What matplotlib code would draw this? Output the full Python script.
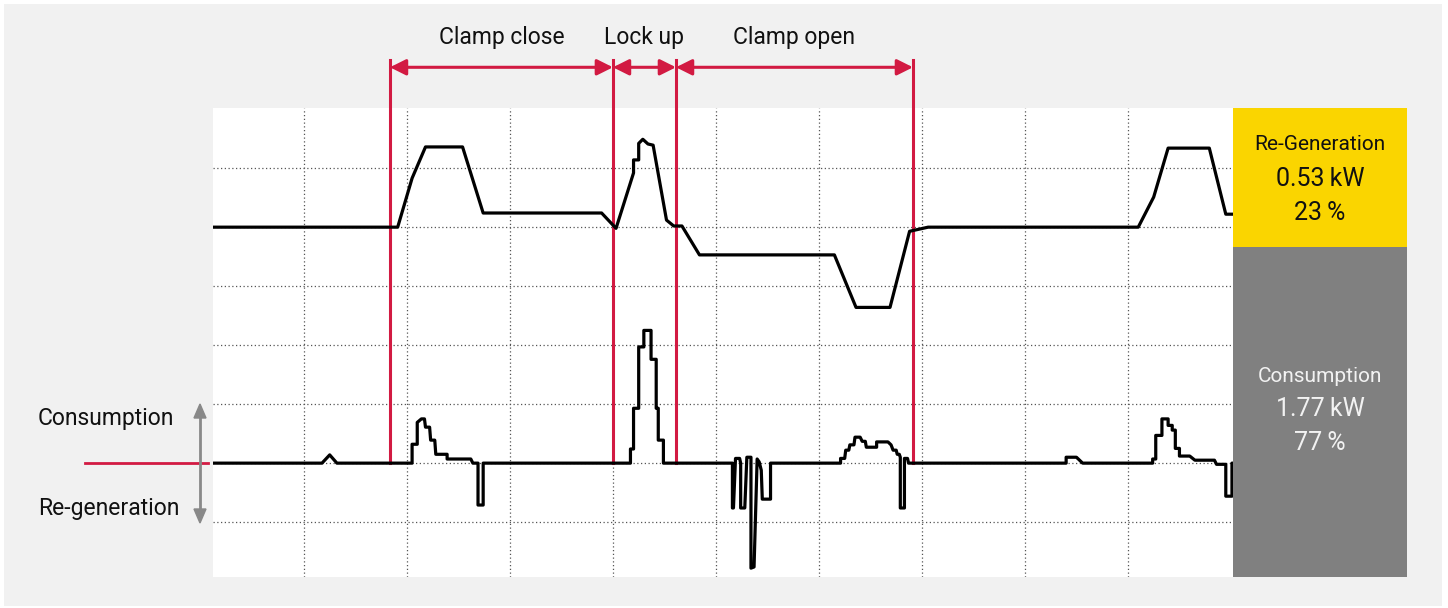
import matplotlib.pyplot as plt
from matplotlib.patches import Rectangle

plt.rcParams['font.family'] = ['Roboto', 'DejaVu Sans']

# time in grid divisions, signal in grid divisions
t_top = [0.12, 1.91, 2.05, 2.18, 2.54, 2.74, 3.89, 4.03, 4.20, 4.20, 4.25, 4.25, 4.29, 4.34, 4.39,
         4.52, 4.59, 4.67, 4.84, 6.15, 6.36, 6.69, 6.88, 7.06, 9.10, 9.25, 9.39, 9.79, 9.95, 10.02]
v_top = [4.0, 4.0, 4.83, 5.36, 5.36, 4.24, 4.24, 3.98, 4.92, 5.14, 5.14, 5.42, 5.49, 5.41, 5.39,
         4.12, 4.02, 4.02, 3.53, 3.53, 2.64, 2.64, 3.93, 4.0, 4.0, 4.51, 5.34, 5.34, 4.22, 4.22]

t_pow = [0.12, 1.175, 1.25, 1.32, 2.05, 2.05, 2.10, 2.10, 2.14, 2.17, 2.18, 2.22, 2.23, 2.27, 2.28,
         2.39, 2.39, 2.62, 2.64, 2.69, 2.69, 2.74, 2.74,
         4.17, 4.17, 4.20, 4.20, 4.25, 4.25, 4.30, 4.30, 4.37, 4.37, 4.42, 4.42, 4.44, 4.44, 4.49, 4.49,
         5.16, 5.16, 5.17, 5.19, 5.23, 5.24, 5.24, 5.28, 5.30, 5.34, 5.34, 5.37, 5.40, 5.42, 5.44,
         5.45, 5.53, 5.53,
         6.21, 6.21, 6.25, 6.26, 6.29, 6.30, 6.34, 6.35, 6.40, 6.42, 6.45, 6.46, 6.56, 6.56, 6.67,
         6.70, 6.72, 6.75, 6.76, 6.78, 6.79, 6.79, 6.83, 6.83, 6.86, 6.87,
         8.40, 8.40, 8.50, 8.56, 9.24, 9.24, 9.27, 9.27, 9.33, 9.33, 9.39, 9.39, 9.43, 9.43, 9.46,
         9.46, 9.50, 9.50, 9.60, 9.65, 9.84, 9.86, 9.95, 9.95, 10.01, 10.01, 10.02]
v_pow = [0, 0, 0.14, 0, 0, 0.32, 0.32, 0.69, 0.75, 0.75, 0.61, 0.61, 0.39, 0.39, 0.15,
         0.15, 0.07, 0.07, 0, 0, -0.71, -0.71, 0,
         0, 0.24, 0.24, 0.93, 0.93, 1.97, 1.97, 2.25, 2.25, 1.76, 1.76, 0.93, 0.93, 0.39, 0.39, 0,
         0, -0.76, -0.76, 0.08, 0.08, 0, -0.76, -0.76, 0.10, 0.10, -1.78, -1.76, 0.07, 0.02, -0.12,
         -0.61, -0.61, 0,
         0, 0.08, 0.08, 0.22, 0.22, 0.31, 0.31, 0.44, 0.44, 0.37, 0.37, 0.27, 0.27, 0.36, 0.36,
         0.31, 0.22, 0.22, 0.15, 0.15, 0.10, -0.76, -0.76, 0.08, 0.08, 0,
         0, 0.10, 0.10, 0, 0, 0.07, 0.07, 0.47, 0.47, 0.75, 0.75, 0.64, 0.64, 0.56, 0.56,
         0.25, 0.25, 0.12, 0.12, 0.05, 0.05, -0.02, -0.02, -0.56, -0.56, 0, 0]

phase_edges = [1.835, 4.0, 4.612, 6.913]
phase_names = ['Clamp close', 'Lock up', 'Clamp open']

regen_kw, regen_pct = '0.53', '23'
cons_kw, cons_pct = '1.77', '77'

W, H = 1448, 608
fig = plt.figure(figsize=(W / 100, H / 100), dpi=100)
fig.patch.set_facecolor('white')
fig.add_artist(Rectangle((4 / W, 2 / H), 1438 / W, 602 / H, transform=fig.transFigure,
                         facecolor='#f1f1f1', edgecolor='none', zorder=-10))

ax = fig.add_axes([213 / W, 1 - 577 / H, 1020 / W, 469 / H])
ax.set_facecolor('white')
ax.set_xlim(0.117, 10.02)
ax.set_ylim(-1.93, 6.02)
for s in ax.spines.values():
    s.set_visible(False)
ax.set_xticks(range(1, 10))
ax.set_yticks(range(-1, 6))
ax.tick_params(length=0, labelleft=False, labelbottom=False)
ax.grid(True, color='#555555', linestyle=(0, (1, 2)), linewidth=0.9)

red = '#d21a42'
for x in phase_edges:
    ax.plot([x, x], [0, 6.83], color=red, lw=2.2, clip_on=False, zorder=3)
for (a, b), name in zip(zip(phase_edges[:-1], phase_edges[1:]), phase_names):
    ax.annotate('', xy=(b, 6.71), xytext=(a, 6.71), annotation_clip=False,
                arrowprops=dict(arrowstyle='<|-|>', color=red, lw=2.2,
                                mutation_scale=24, shrinkA=0, shrinkB=0))
    ax.text((a + b) / 2, 7.22, name, ha='center', va='center',
            fontsize=16.5, color='#111111', clip_on=False)

ax.plot(t_top, v_top, color='black', lw=2.3, zorder=4)
ax.plot(t_pow, v_pow, color='black', lw=2.3, zorder=4)

# left side: zero marker and direction arrow
fig.add_artist(plt.Line2D([85 / W, 208 / W], [1 - 463 / H] * 2, color=red, lw=2))
fig.add_artist(plt.Line2D([200 / W, 200 / W], [1 - 416 / H, 1 - 511 / H], color='#888888', lw=2))
fig.patches.append(plt.Polygon([(194 / W, 1 - 418 / H), (206 / W, 1 - 418 / H), (200 / W, 1 - 404 / H)],
                               closed=True, transform=fig.transFigure, color='#888888'))
fig.patches.append(plt.Polygon([(194 / W, 1 - 509 / H), (206 / W, 1 - 509 / H), (200 / W, 1 - 523 / H)],
                               closed=True, transform=fig.transFigure, color='#888888'))
fig.text(38 / W, 1 - 419 / H, 'Consumption', ha='left', va='center', fontsize=16.5, color='#111111')
fig.text(38 / W, 1 - 508 / H, 'Re-generation', ha='left', va='center', fontsize=16.5, color='#111111')

# right side summary boxes
fig.add_artist(Rectangle((1233 / W, 1 - 247 / H), 174 / W, 139 / H, transform=fig.transFigure,
                         facecolor='#fad500', edgecolor='none'))
fig.add_artist(Rectangle((1233 / W, 1 - 577 / H), 174 / W, 330 / H, transform=fig.transFigure,
                         facecolor='#808080', edgecolor='none'))
cx = 1320 / W
fig.text(cx, 1 - 145 / H, 'Re-Generation', ha='center', va='center', fontsize=15, color='#111111')
fig.text(cx, 1 - 179 / H, regen_kw + '\u2009kW', ha='center', va='center', fontsize=18, color='#111111')
fig.text(cx, 1 - 213 / H, regen_pct + '\u2009%', ha='center', va='center', fontsize=18, color='#111111')
fig.text(cx, 1 - 377 / H, 'Consumption', ha='center', va='center', fontsize=15, color='#f2f2f2')
fig.text(cx, 1 - 409 / H, cons_kw + '\u2009kW', ha='center', va='center', fontsize=18, color='#f2f2f2')
fig.text(cx, 1 - 443 / H, cons_pct + '\u2009%', ha='center', va='center', fontsize=18, color='#f2f2f2')

fig.savefig('out.png', dpi=100, facecolor=fig.get_facecolor())
